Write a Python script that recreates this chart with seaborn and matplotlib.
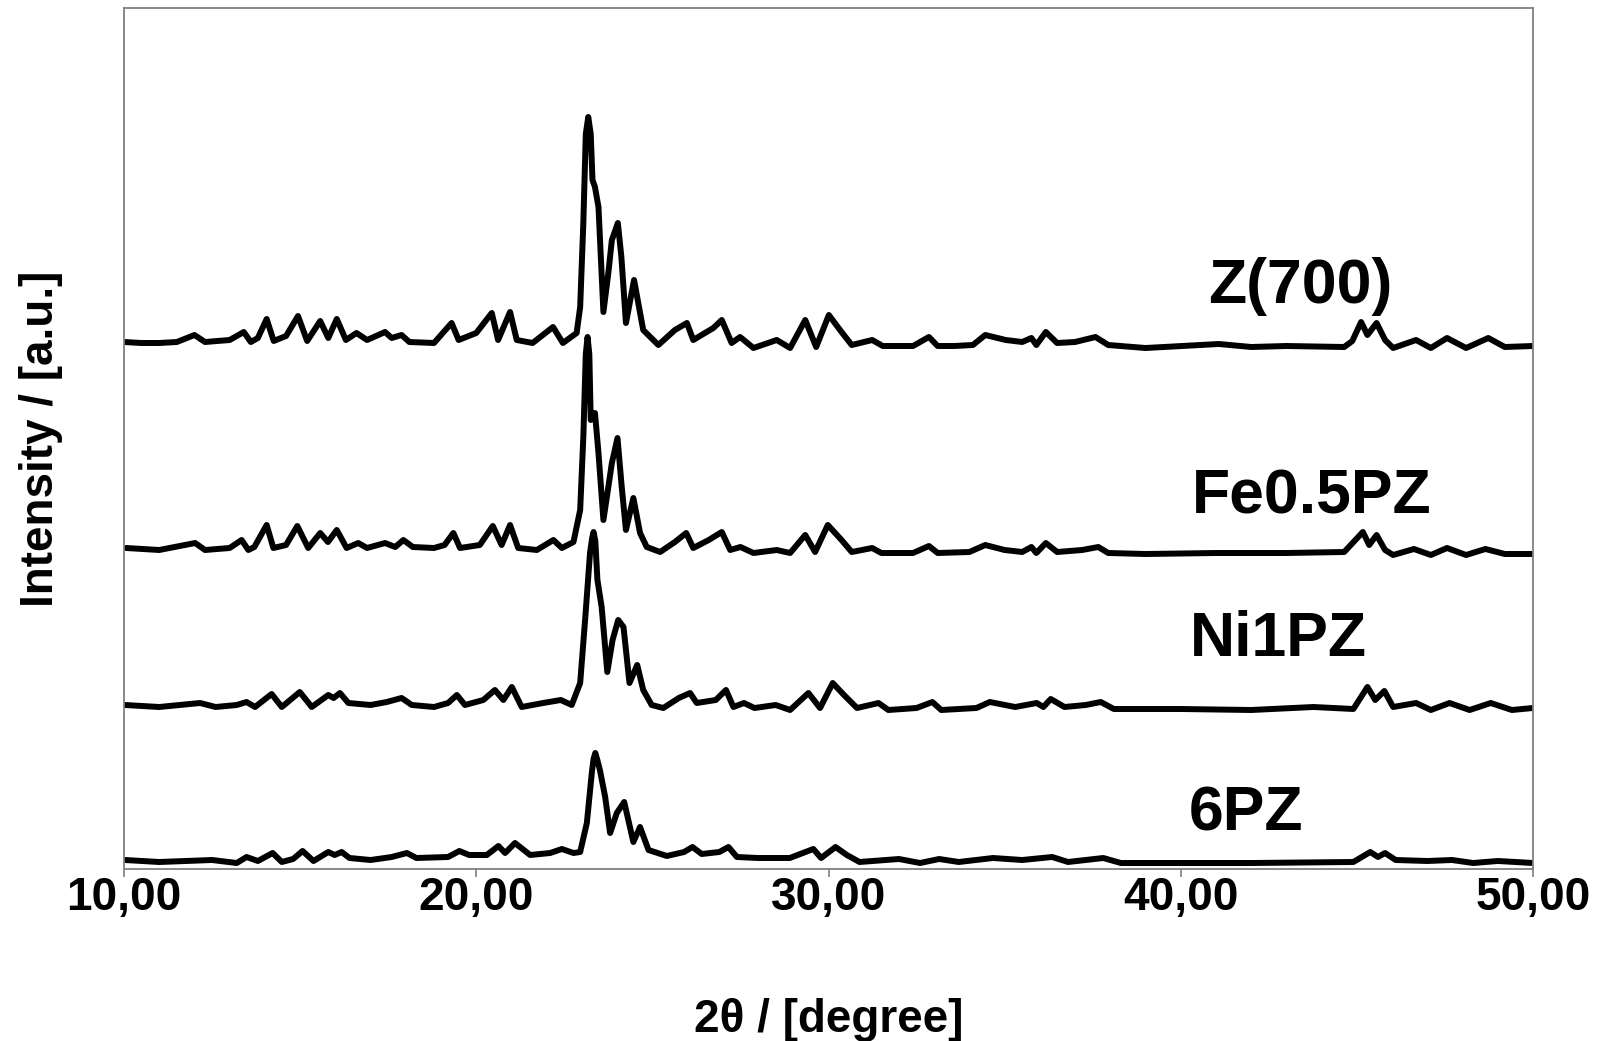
import numpy as np
import pandas as pd
import matplotlib
matplotlib.use('Agg')
import matplotlib.pyplot as plt
from matplotlib.ticker import FuncFormatter
import seaborn as sns

# sample names, top to bottom
samples = ['Z(700)', 'Fe0.5PZ', 'Ni1PZ', '6PZ']

# 2theta / intensity points (stacked, offset already included)
z700_x = [10.0, 10.5, 11.0, 11.5, 12.0, 12.3, 13.0, 13.4, 13.6, 13.8, 14.05, 14.25, 14.6, 14.94,
          15.2, 15.57, 15.8, 16.04, 16.3, 16.6, 16.9, 17.41, 17.6, 17.88, 18.1, 18.8, 19.3, 19.5,
          20.0, 20.44, 20.62, 20.96, 21.15, 21.6, 22.18, 22.46, 22.85, 22.95, 23.04, 23.11, 23.18,
          23.25, 23.3, 23.37, 23.47, 23.61, 23.75, 23.85, 24.02, 24.12, 24.25, 24.48, 24.74, 25.17,
          25.64, 25.98, 26.16, 26.73, 26.97, 27.25, 27.49, 27.87, 28.53, 28.91, 29.34, 29.65, 30.01,
          30.37, 30.66, 31.24, 31.54, 32.4, 32.85, 33.1, 33.57, 34.1, 34.45, 35.03, 35.5, 35.76,
          35.9, 36.17, 36.49, 37.0, 37.58, 37.94, 39.0, 41.08, 42.0, 43.0, 44.64, 44.87, 45.12,
          45.3, 45.56, 45.8, 46.03, 46.68, 47.1, 47.56, 48.1, 48.73, 49.2, 50.0]
z700_y = [527, 526, 526, 527, 534, 527, 529, 537, 527, 531, 550, 528, 533, 553,
          528, 548, 531, 550, 529, 536, 529, 537, 531, 534, 527, 526, 546, 529,
          536, 556, 529, 557, 529, 526, 542, 526, 536, 562, 646, 735, 752,
          735, 689, 682, 662, 557, 596, 629, 646, 612, 546, 589, 539, 524,
          539, 546, 529, 541, 549, 526, 532, 521, 529, 521, 549, 522, 554,
          537, 524, 529, 523, 523, 532, 523, 523, 524, 534, 529, 527, 531,
          524, 537, 526, 527, 532, 524, 521, 525, 522, 523, 522, 528, 547,
          534, 546, 529, 521, 529, 521, 531, 521, 531, 522, 523]

fe_x = [10.06, 11.0, 12.02, 12.3, 13.0, 13.34, 13.53, 13.7, 14.05, 14.24, 14.6, 14.92, 15.23,
        15.57, 15.79, 16.04, 16.32, 16.65, 16.9, 17.41, 17.7, 17.93, 18.2, 18.8, 19.1, 19.35,
        19.54, 20.1, 20.47, 20.72, 20.96, 21.19, 21.72, 22.19, 22.43, 22.76, 22.95, 23.04, 23.11,
        23.16, 23.21, 23.25, 23.37, 23.47, 23.61, 23.75, 23.85, 24.01, 24.13, 24.25, 24.46, 24.65,
        24.84, 25.22, 25.64, 25.96, 26.16, 26.6, 26.97, 27.21, 27.5, 27.87, 28.53, 28.91, 29.34,
        29.62, 29.98, 30.37, 30.66, 31.24, 31.5, 32.4, 32.85, 33.1, 34.0, 34.45, 35.0, 35.5,
        35.76, 35.9, 36.17, 36.49, 37.2, 37.66, 37.94, 39.0, 41.0, 43.0, 44.64, 45.17, 45.35,
        45.56, 45.8, 46.03, 46.62, 47.1, 47.56, 48.1, 48.65, 49.2, 50.0]
fe_y = [321, 319, 326, 319, 321, 329, 319, 322, 344, 321, 324, 343, 321,
        336, 327, 339, 321, 326, 321, 326, 322, 329, 322, 321, 324, 336,
        321, 324, 343, 324, 344, 321, 319, 329, 321, 327, 359, 432, 515,
        532, 515, 449, 456, 416, 349, 382, 406, 431, 382, 339, 371, 336,
        322, 317, 327, 336, 321, 329, 337, 319, 322, 316, 319, 316, 334,
        317, 344, 329, 317, 321, 316, 316, 323, 316, 317, 324, 319, 317,
        322, 316, 326, 317, 319, 322, 316, 315, 316, 316, 317, 337, 324,
        334, 319, 314, 320, 314, 321, 314, 320, 315, 315]

ni_x = [10.03, 11.0, 12.16, 12.6, 13.2, 13.48, 13.72, 14.19, 14.48, 14.99, 15.33, 15.8, 15.95,
        16.13, 16.37, 17.0, 17.46, 17.88, 18.17, 18.8, 19.2, 19.45, 19.68, 20.2, 20.53, 20.77,
        21.01, 21.29, 21.9, 22.4, 22.71, 22.95, 23.09, 23.23, 23.29, 23.33, 23.38, 23.44, 23.56,
        23.72, 23.87, 24.03, 24.18, 24.35, 24.57, 24.74, 24.98, 25.31, 25.75, 26.07, 26.26, 26.8,
        27.09, 27.3, 27.6, 27.9, 28.5, 28.91, 29.43, 29.76, 30.12, 30.44, 30.81, 31.42, 31.7,
        32.5, 32.95, 33.2, 34.2, 34.58, 35.3, 35.91, 36.1, 36.31, 36.7, 37.3, 37.73, 38.1, 40.0,
        42.0, 43.77, 44.9, 45.3, 45.52, 45.78, 46.03, 46.68, 47.1, 47.63, 48.2, 48.8, 49.4, 50.0]
ni_y = [164, 162, 166, 162, 164, 167, 162, 175, 162, 177, 162, 174, 171,
        176, 166, 164, 167, 171, 164, 162, 166, 174, 164, 169, 179, 169,
        182, 162, 166, 169, 164, 186, 249, 316, 331, 337, 328, 289, 262,
        197, 229, 249, 242, 186, 204, 179, 164, 161, 171, 176, 166, 169,
        179, 162, 166, 161, 164, 159, 176, 161, 186, 174, 161, 166, 159,
        161, 167, 159, 161, 167, 162, 166, 162, 170, 162, 164, 167, 160, 160,
        159, 162, 160, 182, 169, 178, 162, 166, 159, 166, 159, 166, 159, 161]

pz6_x = [10.03, 11.0, 12.5, 13.2, 13.48, 13.8, 14.22, 14.48, 14.8, 15.07, 15.38, 15.8, 15.98,
         16.18, 16.4, 17.0, 17.6, 18.03, 18.3, 19.2, 19.52, 19.8, 20.3, 20.63, 20.82, 21.1,
         21.53, 22.1, 22.43, 22.76, 22.95, 23.14, 23.28, 23.33, 23.38, 23.43, 23.51, 23.66, 23.8,
         23.99, 24.2, 24.46, 24.65, 24.89, 25.41, 25.9, 26.14, 26.4, 26.9, 27.16, 27.4, 28.0,
         28.9, 29.57, 29.79, 30.2, 30.52, 30.88, 32.0, 32.6, 33.14, 33.7, 34.67, 35.5, 36.35,
         36.8, 37.8, 38.3, 40.0, 42.0, 44.9, 45.38, 45.6, 45.8, 46.1, 47.0, 47.7, 48.3, 49.0, 50.0]
pz6_y = [9, 7, 9, 6, 12, 8, 16, 7, 10, 18, 8, 17, 14,
         17, 11, 9, 12, 16, 11, 12, 18, 14, 14, 23, 16, 26,
         14, 16, 20, 16, 17, 46, 96, 110, 116, 110, 99, 72, 36,
         56, 67, 27, 42, 19, 13, 17, 22, 15, 17, 22, 12, 11,
         11, 20, 11, 22, 14, 7, 10, 6, 10, 7, 11, 9, 12,
         7, 11, 6, 6, 6, 7, 17, 12, 16, 9, 8, 9, 6, 8, 6]

xticks = [10, 20, 30, 40, 50]

frames = []
for name, xs, ys in zip(samples, [z700_x, fe_x, ni_x, pz6_x], [z700_y, fe_y, ni_y, pz6_y]):
    frames.append(pd.DataFrame({'two_theta': xs, 'intensity': ys, 'sample': name}))
df = pd.concat(frames, ignore_index=True)

sns.set_style('white')
plt.rcParams['font.family'] = ['Liberation Sans', 'DejaVu Sans']
plt.rcParams['font.weight'] = 'bold'
plt.rcParams['text.color'] = 'black'
plt.rcParams['axes.labelcolor'] = 'black'
plt.rcParams['xtick.color'] = 'black'

fig, ax = plt.subplots(figsize=(16.01, 10.41), dpi=100)
fig.subplots_adjust(left=124/1601, right=1533/1601, bottom=1-869/1041, top=1-8/1041)

sns.lineplot(data=df, x='two_theta', y='intensity', units='sample', estimator=None,
             color='black', lw=4.3, sort=False, ax=ax,
             solid_joinstyle='round', solid_capstyle='round')

ax.set_xlim(10, 50)
ax.set_ylim(0, 861)
ax.set_xticks(xticks)
ax.xaxis.set_major_formatter(FuncFormatter(lambda v, p: f'{v:.2f}'.replace('.', ',')))
ax.set_yticks([])
ax.tick_params(axis='x', direction='out', length=6, width=1.2, color='#808080',
               labelcolor='black', labelsize=33, pad=-1, bottom=True)
for lab in ax.get_xticklabels():
    lab.set_fontweight('bold')
for s in ax.spines.values():
    s.set_color('#808080')
    s.set_linewidth(1.3)

ax.set_xlabel('2θ / [degree]', fontsize=33, fontweight='bold', va='center')
ax.xaxis.set_label_coords(0.5, -(1020-869)/861)
ax.set_ylabel('Intensity / [a.u.]', fontsize=33, fontweight='bold', labelpad=44)

# sample labels
ax.text(43.39, 583, 'Z(700)', fontsize=45, fontweight='bold', ha='center', va='center')
ax.text(43.73, 372, 'Fe0.5PZ', fontsize=45, fontweight='bold', ha='center', va='center')
ax.text(42.77, 229, 'Ni1PZ', fontsize=45, fontweight='bold', ha='center', va='center')
ax.text(41.86, 55, '6PZ', fontsize=45, fontweight='bold', ha='center', va='center')

plt.savefig('out.png', dpi=100)
